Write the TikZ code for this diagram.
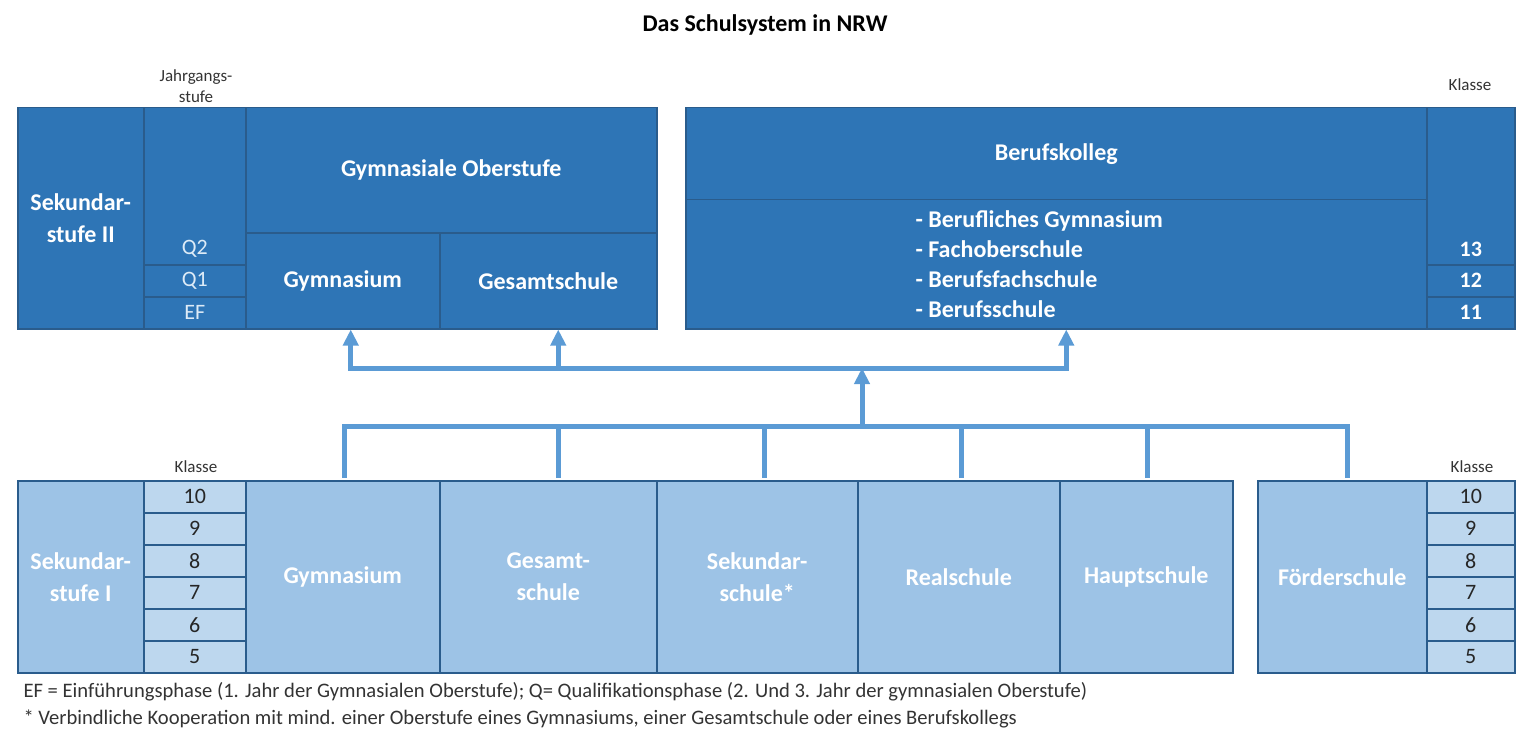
\documentclass[tikz,border=0pt]{standalone}
\usepackage{fontspec}
\setmainfont{Carlito}
\usetikzlibrary{calc,arrows.meta}
\definecolor{dkblue}{HTML}{2E75B6}
\definecolor{ltblue}{HTML}{9DC3E6}
\definecolor{paleblue}{HTML}{BDD7EE}
\definecolor{edgeblue}{HTML}{2A5C8C}
\definecolor{flowblue}{HTML}{5B9BD5}
\definecolor{qtext}{HTML}{DDEBF7}

\begin{document}
\begin{tikzpicture}[x=1pt,y=-1pt,
  cell/.style={draw=edgeblue,line width=1.5pt,anchor=north west,inner sep=0pt,align=center},
  upper/.style={cell,fill=dkblue,text=white,font=\bfseries\fontsize{24}{32}\selectfont},
  lower/.style={cell,fill=ltblue,text=white,font=\bfseries\fontsize{24}{32}\selectfont},
  grade/.style={cell,fill=paleblue,text=black!85,font=\fontsize{22}{26}\selectfont,minimum width=102pt,minimum height=32pt},
  phase/.style={cell,fill=dkblue,text=qtext,font=\fontsize{22}{26}\selectfont,minimum width=102pt,minimum height=32pt},
  klasse/.style={cell,fill=dkblue,text=white,font=\bfseries\fontsize{22}{26}\selectfont,minimum width=88pt,minimum height=32pt},
  small/.style={text=black!80,font=\fontsize{17}{21}\selectfont,align=center},
  note/.style={anchor=west,text=black!80,font=\fontsize{20.6}{24}\selectfont},
  flow/.style={draw=flowblue,line width=5pt,line cap=rect},
  lift/.style={flow,line cap=butt,-{Triangle[width=15pt,length=16pt]}}]
\useasboundingbox (0,0) rectangle (1536,746);

% title and column heads
\node[font=\bfseries\fontsize{24}{28}\selectfont] (title) at (765,25) {Das Schulsystem in NRW};
\node[small] (jgs) at (196,86) {Jahrgangs-\\stufe};
\node[small] (klTR) at (1470,85) {Klasse};
\node[small] (klBL) at (196,467) {Klasse};
\node[small] (klBR) at (1472,467) {Klasse};

% Sekundarstufe II
\node[upper,minimum width=126pt,minimum height=221pt] (sek2) at (17,107) {Sekundar-\\stufe II};
\node[phase,minimum height=157pt,label={[anchor=south,yshift=5pt,text=qtext,font=\fontsize{22}{26}\selectfont]south:Q2}] (q2) at (143,107) {};
\node[phase] (q1) at (143,264) {Q1};
\node[phase] (ef) at (143,296) {EF};
\node[upper,minimum width=411pt,minimum height=125pt] (gymOb) at (245,107) {Gymnasiale Oberstufe};
\node[upper,minimum width=194pt,minimum height=96pt] (gymU) at (245,232) {Gymnasium};
\node[upper,minimum width=217pt,minimum height=96pt] (gesU) at (439,232) {Gesamtschule};

% Berufskolleg
\node[upper,minimum width=741pt,minimum height=92pt] (bk) at (685,107) {Berufskolleg};
\node[upper,minimum width=741pt,minimum height=129pt,align=left,font=\bfseries\fontsize{24}{30}\selectfont] (bkList) at (685,199)
  {- Berufliches Gymnasium\hspace*{34pt}\\- Fachoberschule\\- Berufsfachschule\\- Berufsschule};
\node[klasse,minimum height=157pt,label={[anchor=south,yshift=5pt,text=white,font=\bfseries\fontsize{22}{26}\selectfont]south:13}] (k13) at (1426,107) {};
\node[klasse] (k12) at (1426,264) {12};
\node[klasse] (k11) at (1426,296) {11};

% Sekundarstufe I
\node[lower,minimum width=126pt,minimum height=192pt] (sek1) at (17,480) {Sekundar-\\stufe I};
\foreach \g [count=\i] in {10,9,8,7,6,5}{
  \node[grade] (gl\g) at (143,{480+(\i-1)*32}) {\g};
  \node[grade,minimum width=88pt] (gr\g) at (1426,{480+(\i-1)*32}) {\g};
}
\node[lower,minimum width=194pt,minimum height=192pt] (gymL) at (245,480) {Gymnasium};
\node[lower,minimum width=217pt,minimum height=192pt] (gesL) at (439,480) {Gesamt-\\schule};
\node[lower,minimum width=201pt,minimum height=192pt] (sekS) at (656,480) {Sekundar-\\schule*};
\node[lower,minimum width=202pt,minimum height=192pt] (real) at (857,480) {Realschule};
\node[lower,minimum width=173pt,minimum height=192pt] (haupt) at (1059,480) {Hauptschule};
\node[lower,minimum width=169pt,minimum height=192pt] (foerder) at (1257,480) {Förderschule};

% connectors
\coordinate (busL) at (862,426);
\coordinate (busU) at (862,368);
\draw[flow] ([xshift=2pt]gymL.north |- busL) -- ([xshift=5pt]foerder.north |- busL);
\foreach \n/\dx in {gymL/2,gesL/10,sekS/7,real/3,haupt/1,foerder/5}
  \draw[flow,line cap=butt] ([xshift=\dx pt]\n.north |- busL) -- ([xshift=\dx pt,yshift=2pt]\n.north);
\draw[lift] ([yshift=-2pt]busL) -- (busU);
\draw[flow] ([xshift=8pt]gymU.south |- busU) -- ($(bkList.south |- busU)+(10,0)$);
\draw[lift] ([xshift=8pt]gymU.south |- busU) -- ([xshift=8pt]gymU.south);
\draw[lift] ([xshift=10pt]gesU.south |- busU) -- ([xshift=10pt]gesU.south);
\draw[lift] ([xshift=10pt]bkList.south |- busU) -- ([xshift=10pt]bkList.south);

% notes
\node[note] (note1) at (20,692)
  {EF = Einführungsphase (1. Jahr der Gymnasialen Oberstufe); Q= Qualifikationsphase (2. Und 3. Jahr der gymnasialen Oberstufe)};
\node[note] (note2) at (20,719)
  {* Verbindliche Kooperation mit mind. einer Oberstufe eines Gymnasiums, einer Gesamtschule oder eines Berufskollegs};
\end{tikzpicture}
\end{document}
